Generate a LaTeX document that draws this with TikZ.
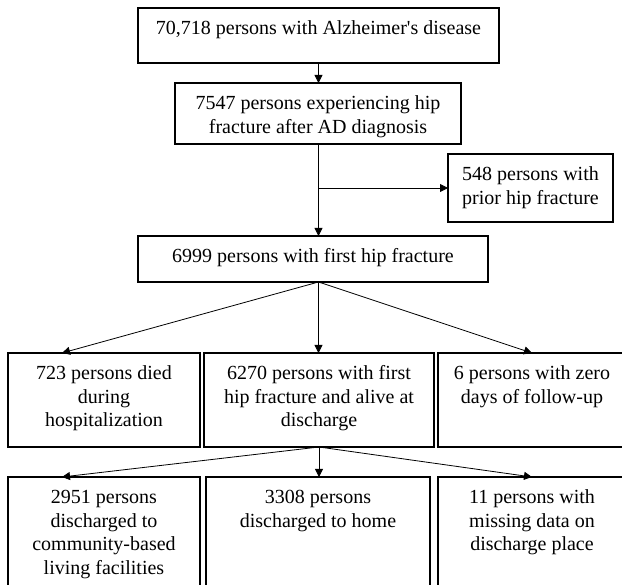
\documentclass[tikz,border=0pt]{standalone}
\usepackage{fontspec}
\setmainfont{Liberation Serif}
\usetikzlibrary{arrows.meta,calc}
\tikzset{
    flowbox/.style={
        draw, line width=1.5pt, anchor=north west, outer sep=0pt,
        inner xsep=0pt, inner ysep=10.5pt,
        font=\fontsize{20}{23.5}\selectfont
    },
    flowarrow/.style={
        line width=0.8pt, -{Triangle[length=8pt,width=8pt]}
    }
}
\newcommand{\boxtext}[3]{\parbox[t][#2][t]{#1}{\centering\strut #3}}

\begin{document}
\begin{tikzpicture}[x=1pt,y=-1pt, line join=miter]

\useasboundingbox (0,0) rectangle (622,585);
\clip (0,0) rectangle (622,585);

% selection steps
\node[flowbox] (ad) at (138,8) {\boxtext{361pt}{34pt}{70,718 persons with Alzheimer\textquotesingle s disease}};
\node[flowbox] (hip) at (175,83) {\boxtext{286pt}{40pt}{7547 persons experiencing hip\\fracture after AD diagnosis}};
\node[flowbox] (prior) at (448,154) {\boxtext{165pt}{47pt}{548 persons with\\prior hip fracture}};
\node[flowbox] (first) at (138,236) {\boxtext{350pt}{25pt}{6999 persons with first hip fracture}};

% hospital outcome
\node[flowbox] (died) at (8,353) {\boxtext{192pt}{73pt}{723 persons died\\during\\hospitalization}};
\node[flowbox] (alive) at (204,353) {\boxtext{230pt}{73pt}{6270 persons with first\\hip fracture and alive at\\discharge}};
\node[flowbox] (zero) at (438,353) {\boxtext{188pt}{73pt}{6 persons with zero\\days of follow-up}};

% discharge place
\node[flowbox] (community) at (8,477) {\boxtext{192pt}{102pt}{2951 persons\\discharged to\\community-based\\living facilities}};
\node[flowbox] (home) at (206,477) {\boxtext{224pt}{102pt}{3308 persons\\discharged to home}};
\node[flowbox] (missing) at (438,477) {\boxtext{188pt}{102pt}{11 persons with\\missing data on\\discharge place}};

\draw[flowarrow] (ad.south) -- (ad.south |- hip.north);
\draw[flowarrow] (ad.south |- hip.south) -- (ad.south |- first.north);
\draw[flowarrow] (ad.south |- prior.west) -- (prior.west);

\coordinate (fork) at (ad.south |- first.south);
\draw[flowarrow] (fork) -- ($(died.north west)+(54,0)$);
\draw[flowarrow] (fork) -- (fork |- alive.north);
\draw[flowarrow] (fork) -- (zero.north);

\draw[flowarrow] (alive.south) -- ($(community.north west)+(54,0)$);
\draw[flowarrow] (alive.south) -- (alive.south |- home.north);
\draw[flowarrow] (alive.south) -- (missing.north);

\end{tikzpicture}
\end{document}
